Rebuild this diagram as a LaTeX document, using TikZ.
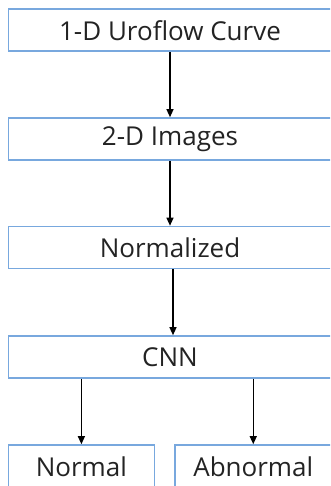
\documentclass[tikz,border=0pt]{standalone}
\usepackage{fontspec}
\setmainfont{Open Sans}
\usetikzlibrary{arrows.meta}
\definecolor{boxblue}{RGB}{120,168,222}
\definecolor{txt}{RGB}{35,35,35}
\begin{document}
\begin{tikzpicture}[x=1pt,y=1pt,
  flowbox/.style={draw=boxblue, line width=1.6pt, rectangle, inner sep=0pt,
    minimum height=42pt, text=txt, font=\fontsize{26}{26}\selectfont},
  flowarrow/.style={draw=black, line width=1.2pt, -{Triangle[width=7pt,length=8pt]}}]
\useasboundingbox (0,0) rectangle (330,486);
\clip (0,0) rectangle (330,486);
\node[flowbox, minimum width=323pt] (b1) at (170,455.75) {1-D Uroflow Curve};
\node[flowbox, minimum width=323pt] (b2) at (170,347) {2-D Images};
\node[flowbox, minimum width=323pt] (b3) at (170,238.5) {Normalized};
\node[flowbox, minimum width=323pt] (b4) at (170,129) {CNN};
\node[flowbox, minimum width=145.8pt, minimum height=44pt] (normal) at (81.4,19) {Normal};
\node[flowbox, minimum width=156.5pt, minimum height=44pt] (abnormal) at (253.25,19) {Abnormal};
\draw[flowarrow] (b1.south) -- (b2.north);
\draw[flowarrow] (b2.south) -- (b3.north);
\draw[flowarrow] ([xshift=3pt]b3.south) -- ([xshift=3pt]b4.north);
\draw[flowarrow] (b4.south -| normal.north) -- (normal.north);
\draw[flowarrow] (b4.south -| abnormal.north) -- (abnormal.north);
\end{tikzpicture}
\end{document}
